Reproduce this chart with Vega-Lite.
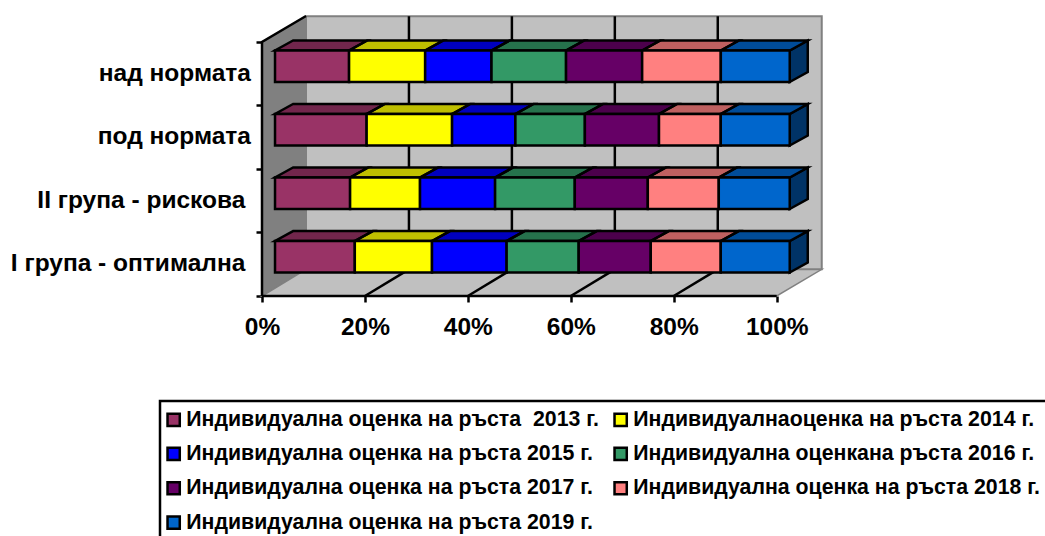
{"$schema":"https://vega.github.io/schema/vega-lite/v6.json","width":560,"height":280,"autosize":{"type":"none"},"padding":{"left":262,"top":16,"right":223,"bottom":240},"background":"white","config":{"view":{"stroke":null},"font":"Liberation Sans","legend":{"strokeWidth":2.5}},"datasets":{"shares":[
{"group":"над нормата","year":2013,"share":14.4},{"group":"над нормата","year":2014,"share":14.8},{"group":"над нормата","year":2015,"share":12.9},{"group":"над нормата","year":2016,"share":14.5},{"group":"над нормата","year":2017,"share":14.8},{"group":"над нормата","year":2018,"share":15.3},{"group":"над нормата","year":2019,"share":13.4},
{"group":"под нормата","year":2013,"share":17.8},{"group":"под нормата","year":2014,"share":16.6},{"group":"под нормата","year":2015,"share":12.3},{"group":"под нормата","year":2016,"share":13.5},{"group":"под нормата","year":2017,"share":14.4},{"group":"под нормата","year":2018,"share":12.0},{"group":"под нормата","year":2019,"share":13.4},
{"group":"II група - рискова","year":2013,"share":14.6},{"group":"II група - рискова","year":2014,"share":13.6},{"group":"II група - рискова","year":2015,"share":14.6},{"group":"II група - рискова","year":2016,"share":15.5},{"group":"II група - рискова","year":2017,"share":14.2},{"group":"II група - рискова","year":2018,"share":13.8},{"group":"II група - рискова","year":2019,"share":13.8},
{"group":"I група - оптимална","year":2013,"share":15.5},{"group":"I група - оптимална","year":2014,"share":15.0},{"group":"I група - оптимална","year":2015,"share":14.5},{"group":"I група - оптимална","year":2016,"share":14.0},{"group":"I група - оптимална","year":2017,"share":14.0},{"group":"I група - оптимална","year":2018,"share":13.6},{"group":"I група - оптимална","year":2019,"share":13.4}
],"plane":[{"d":0},{"d":1}],"grid":[{"t":0.2},{"t":0.4},{"t":0.6},{"t":0.8}]},
"data":{"name":"shares"},
"transform":[
{"calculate":"indexof(['I група - оптимална','II група - рискова','под нормата','над нормата'],datum.group)","as":"i"},
{"calculate":"['Индивидуална оценка на ръста \u00a02013 г.','Индивидуалнаоценка на ръста 2014 г.','Индивидуална оценка на ръста 2015 г.','Индивидуална оценкана ръста 2016 г.','Индивидуална оценка на ръста 2017 г.','Индивидуална оценка на ръста 2018 г.','Индивидуална оценка на ръста 2019 г.'][datum.year-2013]","as":"series"},
{"stack":"share","groupby":["group"],"sort":[{"field":"year","order":"ascending"}],"offset":"normalize","as":["v0","v1"]},
{"calculate":"[0,1]","as":"d"},{"flatten":["d"]},
{"calculate":"0.0253+datum.v0+datum.d*0.035","as":"xa"},
{"calculate":"0.0253+datum.v1+datum.d*0.035","as":"xb"},
{"calculate":"datum.i+0.37+datum.d*0.157","as":"yb"},
{"calculate":"datum.i+0.866+datum.d*0.157","as":"yt"}
],
"layer":[
{"data":{"name":"plane"},"transform":[{"calculate":"datum.d*0.0855","as":"x"},{"calculate":"datum.d*0.42","as":"y"},{"calculate":"4+datum.d*0.409","as":"y2"}],"mark":{"type":"area","orient":"vertical","fill":"#808080","stroke":"#666666","strokeWidth":1},"encoding":{"x":{"field":"x","type":"quantitative","scale":{"domain":[0,1.088],"nice":false,"zero":false},"axis":{"values":[0,0.2,0.4,0.6,0.8,1],"format":".0%","grid":false,"domain":false,"title":null,"tickColor":"black","tickWidth":2.5,"tickSize":6,"labelFont":"Liberation Sans","labelFontWeight":"bold","labelFontSize":24.5,"labelColor":"black","labelPadding":13,"labelFlush":false,"labelOverlap":false}},"y":{"field":"y","type":"quantitative","scale":{"domain":[0,4.409],"nice":false,"zero":false},"axis":{"values":[0,1,2,3,4],"labels":false,"grid":false,"domain":false,"title":null,"tickColor":"black","tickWidth":2.5,"tickSize":6}},"y2":{"field":"y2"}}},
{"data":{"name":"plane"},"transform":[{"calculate":"datum.d*0.0855","as":"x"},{"calculate":"1+datum.d*0.0875","as":"x2"},{"calculate":"datum.d*0.42","as":"y"}],"mark":{"type":"area","orient":"horizontal","fill":"#C0C0C0","stroke":"#808080","strokeWidth":1.5},"encoding":{"y":{"field":"y","type":"quantitative"},"x":{"field":"x","type":"quantitative"},"x2":{"field":"x2"}}},
{"data":{"values":[{"x":0.0855,"x2":1.0875,"y":0.42,"y2":4.405}]},"mark":{"type":"rect","fill":"#C0C0C0","stroke":"#808080","strokeWidth":2},"encoding":{"x":{"field":"x","type":"quantitative"},"x2":{"field":"x2"},"y":{"field":"y","type":"quantitative"},"y2":{"field":"y2"}}},
{"data":{"name":"grid"},"transform":[{"calculate":"datum.t+0.0855","as":"tb"},{"calculate":"0.42","as":"y0"},{"calculate":"4.405","as":"y1"}],"mark":{"type":"rule","color":"black","strokeWidth":2.5},"encoding":{"x":{"field":"tb","type":"quantitative"},"y":{"field":"y0","type":"quantitative"},"y2":{"field":"y1"}}},
{"data":{"name":"grid"},"transform":[{"calculate":"[0,1]","as":"d"},{"flatten":["d"]},{"calculate":"datum.t+datum.d*0.0855","as":"x"},{"calculate":"datum.d*0.42","as":"y"}],"mark":{"type":"line","color":"black","strokeWidth":2.5},"encoding":{"x":{"field":"x","type":"quantitative"},"y":{"field":"y","type":"quantitative"},"detail":{"field":"t"}}},
{"data":{"values":[{"k":"a","x":0,"y":0,"n":1},{"k":"a","x":1,"y":0,"n":2},{"k":"b","x":0,"y":0,"n":1},{"k":"b","x":0,"y":4,"n":2},{"k":"b","x":0.0855,"y":4.409,"n":3}]},"mark":{"type":"line","color":"black","strokeWidth":2.5},"encoding":{"x":{"field":"x","type":"quantitative"},"y":{"field":"y","type":"quantitative"},"detail":{"field":"k"},"order":{"field":"n"}}},
{"transform":[{"filter":"datum.year==2019"}],"mark":{"type":"area","orient":"vertical","fill":"#0066CC"},"encoding":{"x":{"field":"xb","type":"quantitative"},"y":{"field":"yb","type":"quantitative"},"y2":{"field":"yt"},"detail":{"field":"group"}}},
{"transform":[{"filter":"datum.year==2019"}],"mark":{"type":"area","orient":"vertical","fill":"black","fillOpacity":0.5,"stroke":"black","strokeWidth":2.5},"encoding":{"x":{"field":"xb","type":"quantitative"},"y":{"field":"yb","type":"quantitative"},"y2":{"field":"yt"},"detail":{"field":"group"}}},
{"mark":{"type":"area","orient":"horizontal"},"encoding":{"y":{"field":"yt","type":"quantitative"},"x":{"field":"xa","type":"quantitative"},"x2":{"field":"xb"},"detail":{"field":"group"},"color":{"field":"series","type":"nominal","scale":{"domain":["Индивидуална оценка на ръста \u00a02013 г.","Индивидуалнаоценка на ръста 2014 г.","Индивидуална оценка на ръста 2015 г.","Индивидуална оценкана ръста 2016 г.","Индивидуална оценка на ръста 2017 г.","Индивидуална оценка на ръста 2018 г.","Индивидуална оценка на ръста 2019 г."],"range":["#993366","#FFFF00","#0000FF","#339966","#660066","#FF8080","#0066CC"]},"legend":{"title":null,"orient":"none","direction":"horizontal","legendX":-102,"legendY":385,"columns":2,"symbolType":"square","symbolSize":150,"symbolOffset":-5,"symbolStrokeColor":"black","symbolStrokeWidth":2.5,"symbolOpacity":1,"strokeColor":"black","fillColor":"white","padding":8,"labelFont":"Liberation Sans","labelFontWeight":"bold","labelFontSize":21.3,"labelColor":"black","labelLimit":600,"rowPadding":11.3,"columnPadding":10,"labelOffset":2}}}},
{"mark":{"type":"area","orient":"horizontal","fill":"black","fillOpacity":0.25,"stroke":"black","strokeWidth":2.5},"encoding":{"y":{"field":"yt","type":"quantitative"},"x":{"field":"xa","type":"quantitative"},"x2":{"field":"xb"},"detail":[{"field":"group"},{"field":"year"}]}},
{"transform":[{"filter":"datum.d==0"}],"mark":{"type":"rect","stroke":"black","strokeWidth":2.5},"encoding":{"x":{"field":"xa","type":"quantitative"},"x2":{"field":"xb"},"y":{"field":"yb","type":"quantitative"},"y2":{"field":"yt"},"color":{"field":"series","type":"nominal"}}},
{"transform":[{"filter":"datum.year==2013 && datum.d==0"},{"calculate":"datum.i+0.5","as":"ym"},{"calculate":"datum.i<2 ? -0.011 : 0","as":"x0"}],"mark":{"type":"text","align":"right","baseline":"middle","dx":-11,"font":"Liberation Sans","fontWeight":"bold","fontSize":24.5,"color":"black"},"encoding":{"x":{"field":"x0","type":"quantitative"},"y":{"field":"ym","type":"quantitative"},"text":{"field":"group"}}}
]}
